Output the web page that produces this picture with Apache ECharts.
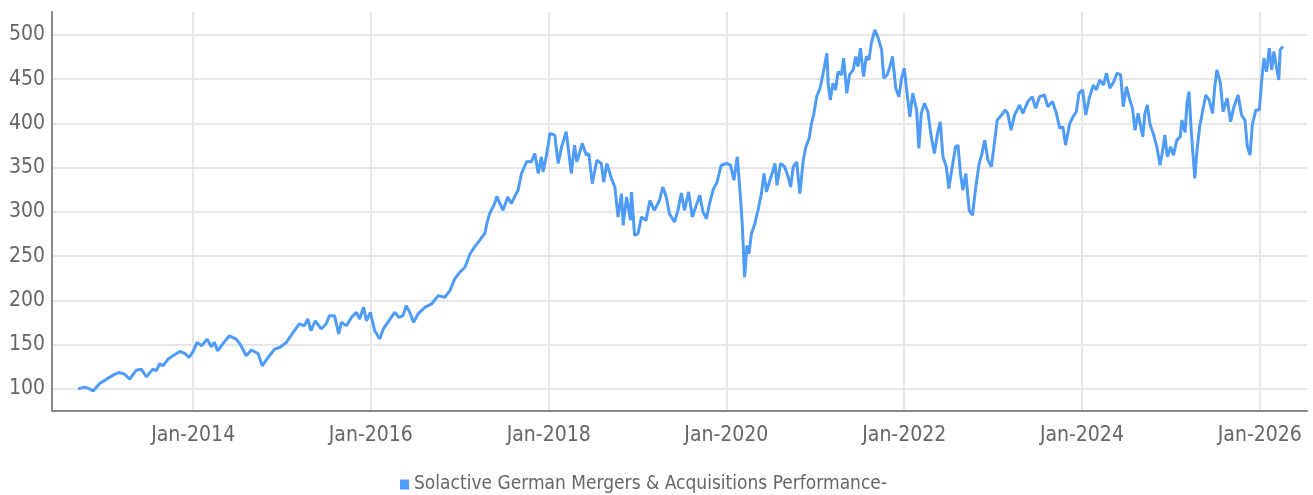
<!DOCTYPE html>
<html>
<head>
<meta charset="utf-8">
<script src="https://cdn.jsdelivr.net/npm/echarts@6.0.0/dist/echarts.min.js"></script>
<style>
html,body{margin:0;padding:0;background:#fff;}
#chart{width:1313px;height:495px;}
</style>
</head>
<body>
<div id="chart"></div>
<script>
const seriesName = 'Solactive German Mergers & Acquisitions Performance-';
const dates = [
'2012-09-15','2012-10-12','2012-10-30','2012-11-16','2012-12-13','2013-01-10','2013-02-14','2013-03-04','2013-03-25','2013-04-15',
'2013-05-12','2013-06-02','2013-06-23','2013-07-19','2013-08-03','2013-08-16','2013-08-30','2013-09-20','2013-10-10','2013-11-07',
'2013-11-28','2013-12-15','2014-01-01','2014-01-17','2014-02-05','2014-02-28','2014-03-16','2014-03-29','2014-04-12','2014-05-02',
'2014-05-30','2014-06-27','2014-07-17','2014-08-07','2014-08-28','2014-09-25','2014-10-12','2014-11-05','2014-12-02','2014-12-22',
'2015-01-19','2015-02-16','2015-03-13','2015-04-03','2015-04-17','2015-04-30','2015-05-18','2015-06-11','2015-07-01','2015-07-15',
'2015-08-05','2015-08-22','2015-09-02','2015-09-23','2015-10-13','2015-11-03','2015-11-16','2015-12-02','2015-12-14','2015-12-30',
'2016-01-17','2016-02-07','2016-02-21','2016-03-11','2016-04-08','2016-04-26','2016-05-12','2016-05-26','2016-06-09','2016-06-25',
'2016-07-13','2016-08-10','2016-09-07','2016-10-04','2016-10-31','2016-11-21','2016-12-11','2017-01-01','2017-01-22','2017-02-12',
'2017-03-02','2017-03-23','2017-04-13','2017-04-22','2017-05-03','2017-05-24','2017-06-02','2017-06-14','2017-06-27','2017-07-17',
'2017-07-31','2017-08-28','2017-09-11','2017-10-02','2017-10-22','2017-11-05','2017-11-19','2017-12-02','2017-12-09','2017-12-23',
'2018-01-06','2018-01-26','2018-02-09','2018-02-23','2018-03-14','2018-04-04','2018-04-17','2018-04-27','2018-05-19','2018-06-05',
'2018-06-15','2018-06-29','2018-07-18','2018-08-05','2018-08-15','2018-08-28','2018-09-16','2018-09-30','2018-10-13','2018-10-27',
'2018-11-03','2018-11-17','2018-12-03','2018-12-07','2018-12-20','2019-01-03','2019-01-17','2019-02-05','2019-02-21','2019-03-11',
'2019-04-01','2019-04-15','2019-04-29','2019-05-12','2019-06-02','2019-06-16','2019-06-30','2019-07-13','2019-07-30','2019-08-14',
'2019-08-28','2019-09-14','2019-09-27','2019-10-11','2019-10-24','2019-11-07','2019-11-24','2019-12-11','2020-01-02','2020-01-18',
'2020-02-01','2020-02-15','2020-02-29','2020-03-07','2020-03-16','2020-03-26','2020-04-03','2020-04-13','2020-04-27','2020-05-10',
'2020-05-24','2020-06-04','2020-06-14','2020-06-28','2020-07-11','2020-07-19','2020-07-27','2020-08-11','2020-08-28','2020-09-11',
'2020-09-21','2020-10-02','2020-10-16','2020-10-29','2020-11-12','2020-11-23','2020-12-06','2020-12-16','2020-12-26','2021-01-06',
'2021-01-20','2021-01-27','2021-02-06','2021-02-17','2021-02-23','2021-03-03','2021-03-14','2021-03-25','2021-04-04','2021-04-18',
'2021-04-27','2021-05-10','2021-05-21','2021-06-05','2021-06-16','2021-06-25','2021-07-05','2021-07-18','2021-07-29','2021-08-09',
'2021-08-19','2021-09-02','2021-09-16','2021-09-30','2021-10-09','2021-10-23','2021-11-03','2021-11-14','2021-11-27','2021-12-10',
'2021-12-21','2022-01-01','2022-01-11','2022-01-24','2022-02-05','2022-02-21','2022-03-02','2022-03-12','2022-03-25','2022-04-08',
'2022-04-22','2022-05-05','2022-05-19','2022-05-29','2022-06-09','2022-06-23','2022-07-03','2022-07-17','2022-07-31','2022-08-10',
'2022-08-20','2022-08-30','2022-09-11','2022-09-25','2022-10-08','2022-10-22','2022-11-05','2022-11-15','2022-11-28','2022-12-11',
'2022-12-25','2023-01-08','2023-01-18','2023-02-05','2023-02-19','2023-03-02','2023-03-16','2023-03-30','2023-04-20','2023-05-03',
'2023-05-24','2023-06-11','2023-06-25','2023-07-11','2023-07-31','2023-08-14','2023-09-02','2023-09-18','2023-10-02','2023-10-15',
'2023-10-26','2023-11-12','2023-11-26','2023-12-09','2023-12-20','2024-01-04','2024-01-17','2024-01-31','2024-02-17','2024-02-29',
'2024-03-14','2024-03-30','2024-04-11','2024-04-25','2024-05-11','2024-05-24','2024-06-08','2024-06-19','2024-07-02','2024-07-16',
'2024-07-27','2024-08-06','2024-08-19','2024-09-07','2024-09-16','2024-09-26','2024-10-06','2024-10-20','2024-11-04','2024-11-17',
'2024-11-28','2024-12-07','2024-12-17','2024-12-31','2025-01-11','2025-01-25','2025-02-08','2025-02-15','2025-02-28','2025-03-08',
'2025-03-16','2025-03-26','2025-04-09','2025-04-18','2025-04-29','2025-05-12','2025-05-24','2025-06-07','2025-06-21','2025-06-30',
'2025-07-09','2025-07-23','2025-08-03','2025-08-20','2025-09-03','2025-09-17','2025-10-04','2025-10-18','2025-11-01','2025-11-11',
'2025-11-22','2025-12-02','2025-12-16','2025-12-30','2026-01-09','2026-01-18','2026-01-29','2026-02-09','2026-02-19','2026-02-28',
'2026-03-10','2026-03-20','2026-03-26','2026-04-06'
];
const values = [
100,102,100.3,97.7,106,111,116.7,118.5,116.7,111,
121,122.3,113.6,122.3,120.4,128.7,126,133.7,137.4,142.3,
140,135.5,142.3,152.5,148.8,156.3,147.6,152.5,143,150.7,
160,156.3,148.8,137.4,143.9,140,126,135.5,145,146.8,
152.5,163.8,173.4,171.4,179,165.8,177,167.7,173.4,182.8,
182.8,162,175.2,171.4,180.8,186.5,179,192.2,177,186.5,
165.8,156.3,167.7,175.2,186.5,180.8,182.8,194,186.5,175.2,
184.7,192.2,196,205.4,203.5,211,224.4,231.9,237.5,252.7,
260.2,267.8,275.4,286.7,298,309.4,317.7,310,301.8,316.9,
309.4,324.5,343.4,356.6,356.6,366,343.4,362.3,345.3,364.2,
388.8,386.9,354.8,373.6,390.6,343.4,375.5,356.6,377.4,364.2,
366,332,358.5,354.8,333.9,354.8,337.8,328.2,294.2,320.7,
284.8,316.9,290.5,322.6,273.5,275.4,294.2,290.5,313,301.8,
313,328.2,316.9,298,288.6,301.8,321.4,301.8,322.6,294.2,
305.6,318.8,299.9,292.4,309.4,324.5,333.9,352.8,354.8,352.8,
335.8,362.3,313,282.9,226.2,262.1,252.7,275.4,286.7,301.8,
320.7,343.4,322.6,335.8,347.2,354.8,330.2,354.8,350.9,339.6,
328.2,350.9,356.6,320.7,358.5,373.6,383.1,400.1,411.5,430.3,
439.8,449.2,462.5,479.5,443.5,426.5,445.5,437.9,458.6,454.9,
473.8,434.1,454.9,460.6,475.7,464.3,485.2,452.9,475.7,471.9,
490.8,505.9,496.5,483.2,451.1,454.9,464.3,475.7,439.8,430.3,
451.1,462.5,437.9,407.6,434.1,415.2,371.8,411.5,422.9,413.3,
384.9,366,390.6,401.9,362.3,350.9,326.4,350.9,373.6,375.5,
343.4,324.5,343.4,301.8,296.2,328,355,364.2,381.2,358.5,
350.9,381.2,403.9,409.5,415.2,411.5,392.5,409.5,420.9,411.5,
424.8,430.3,417.1,430.3,432.2,419,424.8,411.5,394.4,396.3,
375.5,400.1,407.6,413.3,434.1,437.9,409.5,428.5,443.5,437.9,
449.2,443.5,456.8,439.8,447.3,456.8,454.9,419,441.6,426.5,
417.1,392.5,411.5,384.9,411.5,420.9,400.1,388.8,373.6,352.8,
369.8,386.9,362.3,373.6,364.2,381.2,384.9,403.9,390,422.9,
435.9,388.8,337.8,369.8,396.3,415.2,432.2,426.5,411.5,441.6,
460.6,445.5,413.3,428.5,401.9,419,432.2,409.5,403.9,373.6,
364.2,400.1,415.2,415.2,449.2,473.8,458.6,485.2,460.6,481.3,
464.3,449.2,483.2,487
];
const xMin = '2012-05-31';
const xMax = '2026-07-14';
const yMin = 75;
const yMax = 526;
const yStep = 50;

const FONT = "'DejaVu Sans Condensed', 'Liberation Sans Narrow', 'Roboto', sans-serif";
const TWO_YEARS = 2 * 365.25 * 86400000;

const chart = echarts.init(document.getElementById('chart'), null, {renderer: 'canvas'});
chart.setOption({
  animation: false,
  backgroundColor: '#ffffff',
  grid: {left: 52, right: 6, top: 12, bottom: 84, containLabel: false},
  legend: {
    data: [seriesName],
    top: 470,
    left: 395,
    icon: 'rect',
    itemWidth: 9,
    itemHeight: 10,
    itemGap: 10,
    textStyle: {color: '#666666', fontSize: 19, fontFamily: FONT}
  },
  xAxis: {
    type: 'time',
    min: xMin,
    max: xMax,
    minInterval: TWO_YEARS,
    maxInterval: TWO_YEARS,
    axisLine: {show: true, lineStyle: {color: '#8a8a8a', width: 2}},
    axisTick: {show: false},
    splitLine: {show: true, showMinLine: false, showMaxLine: false, lineStyle: {color: '#e6e6e6', width: 2}},
    axisLabel: {
      showMinLabel: false, showMaxLabel: false,
      color: '#666666', fontSize: 21, fontFamily: FONT, margin: 14,
      formatter: function (v) { return 'Jan-' + new Date(v).getFullYear(); }
    }
  },
  yAxis: {
    type: 'value',
    min: yMin,
    max: yMax,
    minInterval: yStep,
    maxInterval: yStep,
    axisLine: {show: true, lineStyle: {color: '#8a8a8a', width: 2}},
    axisTick: {show: false},
    splitLine: {show: true, showMinLine: false, showMaxLine: false, lineStyle: {color: '#e6e6e6', width: 2}},
    axisLabel: {showMinLabel: false, showMaxLabel: false, color: '#666666', fontSize: 21, fontFamily: FONT, margin: 7}
  },
  series: [{
    name: seriesName,
    type: 'line',
    showSymbol: false,
    symbol: 'none',
    itemStyle: {color: '#4f9cf8'},
    lineStyle: {color: '#4f9cf8', width: 3},
    data: dates.map(function (d, i) { return [d, values[i]]; })
  }]
});
</script>
</body>
</html>
